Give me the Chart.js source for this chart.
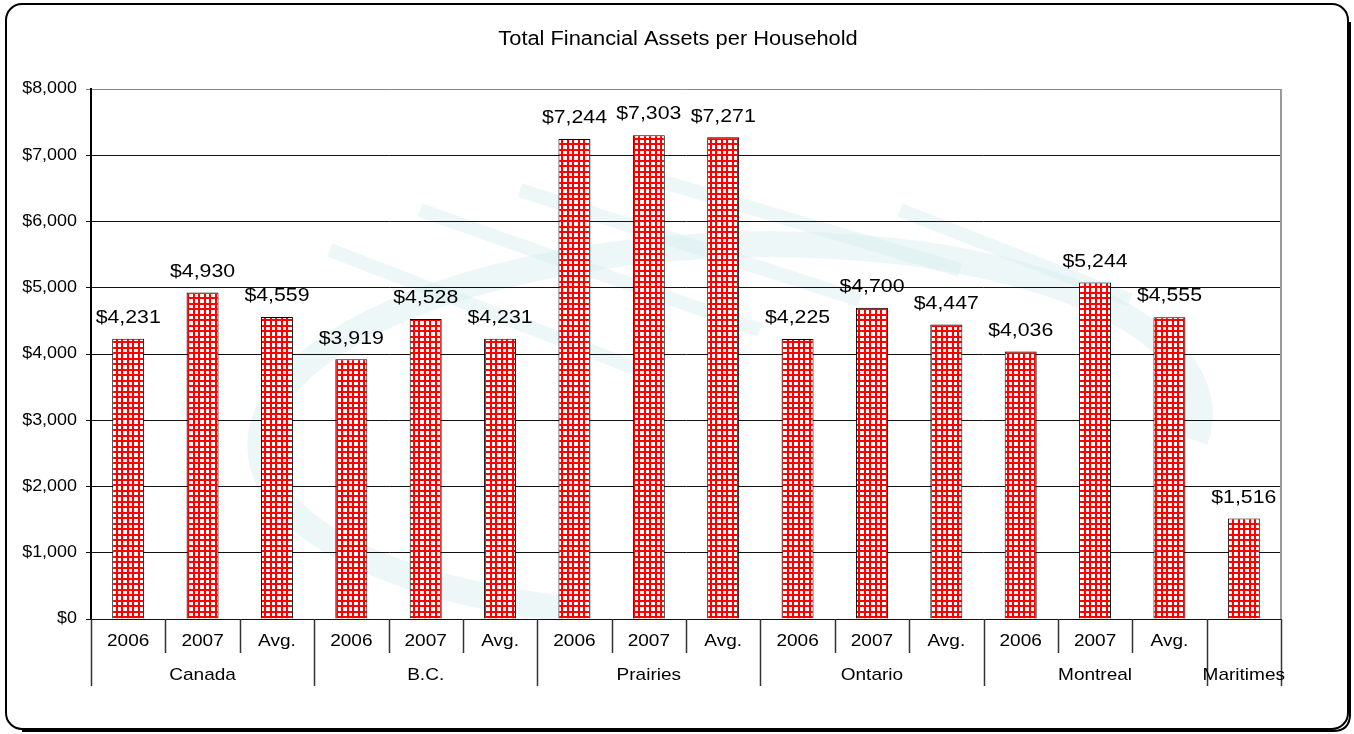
<!DOCTYPE html>
<html>
<head>
<meta charset="utf-8">
<script src="https://cdn.jsdelivr.net/npm/chart.js@4/dist/chart.umd.min.js"></script>
<style>
    html, body { margin: 0; padding: 0; background: #fff; }
    canvas { display: block; }
</style>
</head>
<body>
<canvas id="assetsChart" width="1354" height="734"></canvas>
<script>
const periods = ['2006', '2007', 'Avg.', '2006', '2007', 'Avg.', '2006', '2007', 'Avg.',
    '2006', '2007', 'Avg.', '2006', '2007', 'Avg.', ''];
const regions = ['Canada', 'B.C.', 'Prairies', 'Ontario', 'Montreal', 'Maritimes'];
const regionSpans = [3, 3, 3, 3, 3, 1];
const barValues = [4231, 4930, 4559, 3919, 4528, 4231, 7244, 7303, 7271,
    4225, 4700, 4447, 4036, 5080, 4555, 1516];
const labelValues = [4231, 4930, 4559, 3919, 4528, 4231, 7244, 7303, 7271,
    4225, 4700, 4447, 4036, 5244, 4555, 1516];
const yTicks = [0, 1000, 2000, 3000, 4000, 5000, 6000, 7000, 8000];

const FONT = '"Liberation Sans", Arial, sans-serif';
const STRETCH = 1.12;   // the original text is drawn a little wide
const money = v => '$' + v.toLocaleString('en-US');

function wideText(ctx, text, x, y, size, align) {
    ctx.save();
    ctx.font = size + 'px ' + FONT;
    ctx.textAlign = align || 'center';
    ctx.textBaseline = 'middle';
    ctx.translate(x, y);
    ctx.scale(STRETCH, 1);
    ctx.fillText(text, 0, 0);
    ctx.restore();
}

function checkPattern(ctx) {
    const c = document.createElement('canvas');
    c.width = 11; c.height = 11;
    const g = c.getContext('2d');
    g.fillStyle = '#fff';
    g.fillRect(0, 0, 11, 11);
    g.fillStyle = '#ff0000';
    [0, 6].forEach(p => {
        g.fillRect(0, p, 11, 2);
        g.fillRect(p, 0, 2, 11);
    });
    return ctx.createPattern(c, 'repeat');
}

const backdrop = {
    id: 'backdrop',
    beforeDraw(chart) {
        const ctx = chart.ctx;
        ctx.save();
        ctx.fillStyle = '#fff';
        ctx.fillRect(0, 0, chart.width, chart.height);
        // faint logo watermark
        ctx.strokeStyle = 'rgba(215, 238, 238, 0.45)';
        ctx.lineWidth = 26;
        ctx.beginPath();
        ctx.ellipse(730, 430, 470, 185, -0.04, Math.PI * 0.62, Math.PI * 2.05);
        ctx.stroke();
        ctx.lineWidth = 14;
        [[330, 250, 640, 370], [420, 210, 760, 330], [520, 190, 860, 300],
         [640, 175, 960, 270], [900, 210, 1130, 300]].forEach(s => {
            ctx.beginPath();
            ctx.moveTo(s[0], s[1]);
            ctx.lineTo(s[2], s[3]);
            ctx.stroke();
        });
        ctx.restore();
    }
};

const decorations = {
    id: 'decorations',
    afterDraw(chart) {
        const ctx = chart.ctx;
        const area = chart.chartArea;
        const yScale = chart.scales.y;
        const meta = chart.getDatasetMeta(0);
        ctx.save();

        // right edge of plot
        ctx.strokeStyle = '#999';
        ctx.lineWidth = 2;
        ctx.beginPath();
        ctx.moveTo(area.right, area.top);
        ctx.lineTo(area.right, area.bottom);
        ctx.stroke();

        ctx.fillStyle = '#000';

        // y tick labels
        yTicks.forEach(v => wideText(ctx, money(v), 77, yScale.getPixelForValue(v), 16, 'right'));

        // value labels
        meta.data.forEach((bar, i) => {
            wideText(ctx, money(labelValues[i]), bar.x, bar.y - 21, 19);
        });

        // two-level category axis
        const step = (area.right - area.left) / periods.length;
        ctx.strokeStyle = '#333';
        ctx.lineWidth = 1.5;
        const groupEdges = [0];
        regionSpans.reduce((acc, n) => { groupEdges.push(acc + n); return acc + n; }, 0);
        for (let i = 0; i <= periods.length; i++) {
            const x = Math.round(area.left + i * step) + 0.5;
            ctx.beginPath();
            ctx.moveTo(x, area.bottom);
            ctx.lineTo(x, groupEdges.includes(i) ? area.bottom + 67 : area.bottom + 34);
            ctx.stroke();
        }
        periods.forEach((p, i) => {
            wideText(ctx, p, area.left + (i + 0.5) * step, area.bottom + 22, 17);
        });
        regions.forEach((r, i) => {
            const mid = (groupEdges[i] + groupEdges[i + 1]) / 2;
            wideText(ctx, r, area.left + mid * step, area.bottom + 56, 17);
        });

        // title
        wideText(ctx, 'Total Financial Assets per Household', 678, 40, 19.5);

        // rounded frame
        ctx.strokeStyle = '#000';
        ctx.lineWidth = 2;
        ctx.beginPath();
        ctx.roundRect(6, 4, 1342, 725, 16);
        ctx.stroke();
        ctx.lineWidth = 2;
        ctx.beginPath();
        ctx.moveTo(1350, 22);
        ctx.lineTo(1350, 714);
        ctx.quadraticCurveTo(1350, 731, 1333, 731);
        ctx.lineTo(22, 731);
        ctx.stroke();
        ctx.restore();
    }
};

const canvas = document.getElementById('assetsChart');
const ctx = canvas.getContext('2d');

new Chart(ctx, {
    type: 'bar',
    data: {
        labels: periods.map((p, i) => p + '#' + i),
        datasets: [{
            data: barValues,
            backgroundColor: checkPattern(ctx),
            borderColor: '#000',
            borderWidth: 1,
            borderSkipped: 'bottom',
            barPercentage: 0.43,
            categoryPercentage: 1
        }]
    },
    options: {
        responsive: false,
        animation: false,
        devicePixelRatio: 1,
        layout: { padding: { left: 0, right: 73, top: 89, bottom: 115 } },
        plugins: {
            legend: { display: false },
            tooltip: { enabled: false },
            title: { display: false }
        },
        scales: {
            x: { display: false },
            y: {
                min: 0,
                max: 8000,
                afterFit: scale => { scale.width = 91; },
                afterBuildTicks: scale => { scale.ticks = yTicks.map(v => ({ value: v })); },
                ticks: { display: false },
                grid: {
                    color: c => c.tick && c.tick.value === 8000 ? '#888' : '#111',
                    lineWidth: 1,
                    tickLength: 5
                },
                border: { color: '#000', width: 2 }
            }
        }
    },
    plugins: [backdrop, decorations]
});
</script>
</body>
</html>
